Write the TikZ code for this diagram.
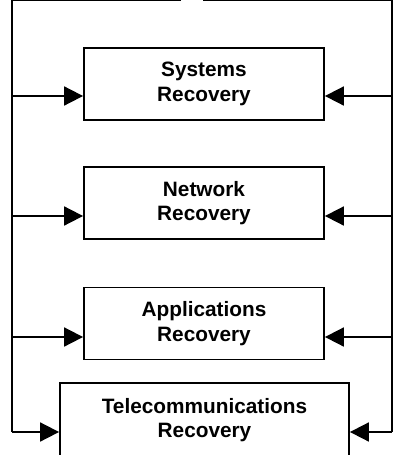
\documentclass[tikz,border=0pt]{standalone}
\usepackage{fontspec}
\setmainfont{Liberation Sans}
\usetikzlibrary{arrows.meta}
\begin{document}
\begin{tikzpicture}[x=1pt,y=-1pt,
  box/.style={draw, line width=1.8pt, minimum width=240pt, minimum height=72pt,
    align=center, inner sep=0pt, font=\bfseries\fontsize{20.8}{24.5}\selectfont},
  wire/.style={line width=1.8pt},
  arr/.style={wire, -{Triangle[length=19pt,width=19pt]}}]
\useasboundingbox (0,0) rectangle (398,455);
\node[box] (sys) at (204,84) {Systems\\Recovery};
\node[box] (net) at (204,203) {Network\\Recovery};
\node[box] (app) at (204,323.5) {Applications\\Recovery};
\node[box, minimum width=289pt, minimum height=74pt] (tel) at (204.5,420) {Telecommunications\\Recovery};
% rails
\coordinate (tl) at (181,0.5);
\coordinate (tr) at (203,0.5);
\coordinate (l0) at (12,0.5);
\coordinate (r0) at (392,0.5);
\coordinate (l1) at (12,96);
\coordinate (l2) at (12,216);
\coordinate (l3) at (12,337);
\coordinate (l4) at (12,432);
\coordinate (r1) at (392,96);
\coordinate (r2) at (392,216);
\coordinate (r3) at (392,337);
\coordinate (r4) at (392,432);
\draw[wire] (tl) -- (l0) -- (l4);
\draw[wire] (tr) -- (r0) -- (r4);
\draw[arr] (l1) -- (sys.west |- l1);
\draw[arr] (l2) -- (net.west |- l2);
\draw[arr] (l3) -- (app.west |- l3);
\draw[arr] (l4) -- (tel.west |- l4);
\draw[arr] (r1) -- (sys.east |- r1);
\draw[arr] (r2) -- (net.east |- r2);
\draw[arr] (r3) -- (app.east |- r3);
\draw[arr] (r4) -- (tel.east |- r4);
\end{tikzpicture}
\end{document}
